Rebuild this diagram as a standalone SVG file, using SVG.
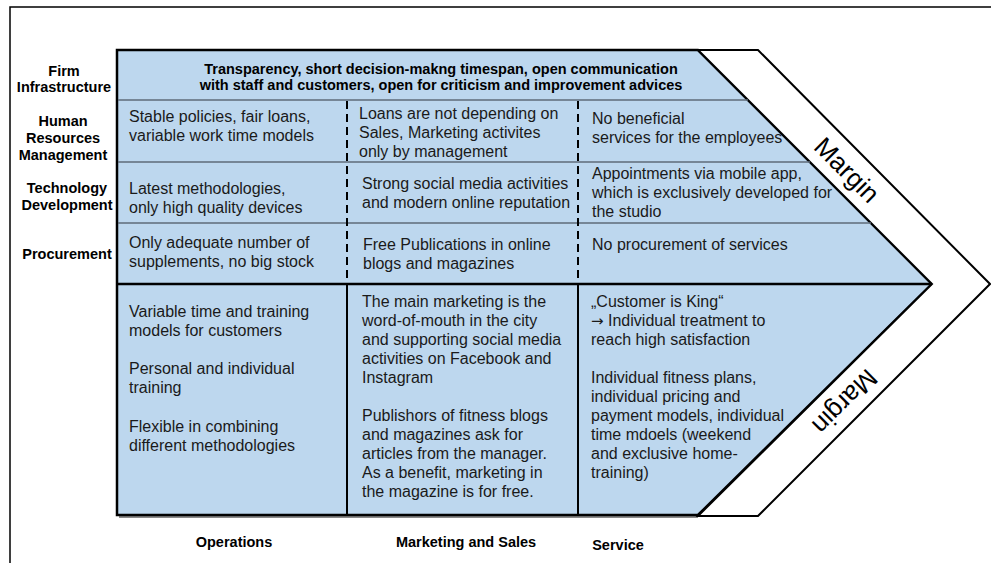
<svg xmlns="http://www.w3.org/2000/svg" width="991" height="563" viewBox="0 0 991 563">
<style>
  .t { font-family: "Liberation Sans", Arial, sans-serif; font-size: 16px; fill: #1a1a1a; }
  .b { font-family: "Liberation Sans", Arial, sans-serif; font-size: 14.5px; font-weight: bold; fill: #000; }
  .m { font-family: "Liberation Sans", Arial, sans-serif; font-size: 26px; fill: #000; }
  .arr { font-family: "DejaVu Sans", sans-serif; font-size: 15px; }
  .row { stroke: #5f6b78; stroke-width: 1.5; fill: none; }
  .dash { stroke: #000; stroke-width: 2; stroke-dasharray: 8 5; fill: none; }
  .solid { stroke: #000; stroke-width: 2; fill: none; }
</style>
<rect width="991" height="563" fill="#fff"/>
<g id="frame">
  <polyline points="10,563 10,7 991,7" fill="none" stroke="#000" stroke-width="1.5"/>
</g>
<g id="chevron">
  <polyline points="119,517 698,517" fill="none" stroke="#8a8a8a" stroke-width="2"/>
  <polygon points="117,50 698,50 932,284 698,515 117,515" fill="#BDD7EE" stroke="#000" stroke-width="2.5" stroke-linejoin="miter"/>
</g>
<g id="margin-band">
  <polygon points="698,50 758,50 990,284 758,516 698,516 932,284" fill="#fff" stroke="#000" stroke-width="2"/>
  <text class="m" text-anchor="middle" transform="translate(847,170) rotate(45)" y="9">Margin</text>
  <text class="m" text-anchor="middle" transform="translate(845,402) rotate(135)" y="9">Margin</text>
</g>
<g id="connectors">
  <line class="row" x1="118" y1="100" x2="748" y2="100"/>
  <line class="row" x1="118" y1="162" x2="810" y2="162"/>
  <line class="row" x1="118" y1="223" x2="871" y2="223"/>
  <line x1="117" y1="284" x2="932" y2="284" stroke="#000" stroke-width="2.5"/>
  <line class="dash" x1="347" y1="101" x2="347" y2="283"/>
  <line class="dash" x1="578" y1="101" x2="578" y2="283"/>
  <line class="solid" x1="347" y1="284" x2="347" y2="515"/>
  <line class="solid" x1="578" y1="284" x2="578" y2="515"/>
</g>
<g id="label-firm">
  <text class="b" text-anchor="middle" x="64" y="76">Firm</text>
  <text class="b" text-anchor="middle" x="64" y="92">Infrastructure</text>
</g>
<g id="label-hr">
  <text class="b" text-anchor="middle" x="63" y="126">Human</text>
  <text class="b" text-anchor="middle" x="63" y="143">Resources</text>
  <text class="b" text-anchor="middle" x="63" y="160">Management</text>
</g>
<g id="label-tech">
  <text class="b" text-anchor="middle" x="67" y="193">Technology</text>
  <text class="b" text-anchor="middle" x="67" y="210">Development</text>
</g>
<g id="label-proc">
  <text class="b" text-anchor="middle" x="67" y="259">Procurement</text>
</g>
<g id="cell-firm">
  <text class="b" text-anchor="middle" x="441" y="74">Transparency, short decision-makng timespan, open communication</text>
  <text class="b" text-anchor="middle" x="441" y="90">with staff and customers, open for criticism and improvement advices</text>
</g>
<g id="cell-hr-1">
  <text class="t" x="129" y="122">Stable policies, fair loans,</text>
  <text class="t" x="129" y="141">variable work time models</text>
</g>
<g id="cell-hr-2">
  <text class="t" x="359" y="119">Loans are not depending on</text>
  <text class="t" x="359" y="138">Sales, Marketing activites</text>
  <text class="t" x="359" y="157">only by management</text>
</g>
<g id="cell-hr-3">
  <text class="t" x="592" y="124">No beneficial</text>
  <text class="t" x="592" y="143">services for the employees</text>
</g>
<g id="cell-tech-1">
  <text class="t" x="129" y="194">Latest methodologies,</text>
  <text class="t" x="129" y="213">only high quality devices</text>
</g>
<g id="cell-tech-2">
  <text class="t" x="362" y="189">Strong social media activities</text>
  <text class="t" x="362" y="208">and modern online reputation</text>
</g>
<g id="cell-tech-3">
  <text class="t" x="592" y="179">Appointments via mobile app,</text>
  <text class="t" x="592" y="198">which is exclusively developed for</text>
  <text class="t" x="592" y="217">the studio</text>
</g>
<g id="cell-proc-1">
  <text class="t" x="129" y="248">Only adequate number of</text>
  <text class="t" x="129" y="267">supplements, no big stock</text>
</g>
<g id="cell-proc-2">
  <text class="t" x="363" y="250">Free Publications in online</text>
  <text class="t" x="363" y="269">blogs and magazines</text>
</g>
<g id="cell-proc-3">
  <text class="t" x="592" y="250">No procurement of services</text>
</g>
<g id="cell-operations">
  <text class="t" x="129" y="317">Variable time and training</text>
  <text class="t" x="129" y="336">models for customers</text>
  <text class="t" x="129" y="374">Personal and individual</text>
  <text class="t" x="129" y="393">training</text>
  <text class="t" x="129" y="432">Flexible in combining</text>
  <text class="t" x="129" y="451">different methodologies</text>
</g>
<g id="cell-marketing">
  <text class="t" x="362" y="307">The main marketing is the</text>
  <text class="t" x="362" y="326">word-of-mouth in the city</text>
  <text class="t" x="362" y="345">and supporting social media</text>
  <text class="t" x="362" y="364">activities on Facebook and</text>
  <text class="t" x="362" y="383">Instagram</text>
  <text class="t" x="362" y="421">Publishors of fitness blogs</text>
  <text class="t" x="362" y="440">and magazines ask for</text>
  <text class="t" x="362" y="459">articles from the manager.</text>
  <text class="t" x="362" y="478">As a benefit, marketing in</text>
  <text class="t" x="362" y="497">the magazine is for free.</text>
</g>
<g id="cell-service">
  <text class="t" x="591" y="307">„Customer is King“</text>
  <text class="t" x="591" y="326"><tspan class="arr">→</tspan> Individual treatment to</text>
  <text class="t" x="591" y="345">reach high satisfaction</text>
  <text class="t" x="591" y="383">Individual fitness plans,</text>
  <text class="t" x="591" y="402">individual pricing and</text>
  <text class="t" x="591" y="421">payment models, individual</text>
  <text class="t" x="591" y="440">time mdoels (weekend</text>
  <text class="t" x="591" y="459">and exclusive home-</text>
  <text class="t" x="591" y="478">training)</text>
</g>
<g id="label-operations">
  <text class="b" text-anchor="middle" x="234" y="547">Operations</text>
</g>
<g id="label-marketing">
  <text class="b" text-anchor="middle" x="466" y="547">Marketing and Sales</text>
</g>
<g id="label-service">
  <text class="b" text-anchor="middle" x="618" y="550">Service</text>
</g>
</svg>
